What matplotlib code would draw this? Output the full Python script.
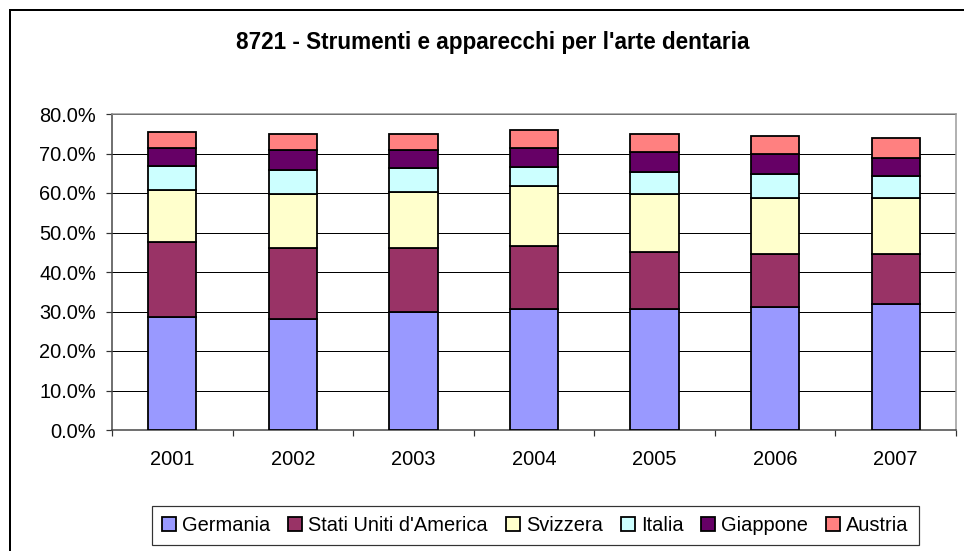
import matplotlib
matplotlib.use("Agg")
import matplotlib.pyplot as plt
import numpy as np
from matplotlib.lines import Line2D
from matplotlib.ticker import FuncFormatter, FixedLocator

years = ["2001", "2002", "2003", "2004", "2005", "2006", "2007"]
germania = [28.7, 28.2, 29.8, 30.7, 30.7, 31.2, 31.8]
stati_uniti = [18.8, 17.8, 16.2, 15.8, 14.3, 13.3, 12.7]
svizzera = [13.2, 13.7, 14.2, 15.2, 14.7, 14.2, 14.2]
italia = [6.1, 6.1, 6.1, 5.0, 5.6, 6.1, 5.6]
giappone = [4.6, 5.1, 4.6, 4.7, 5.1, 5.0, 4.5]
austria = [4.1, 4.1, 4.1, 4.6, 4.6, 4.7, 5.1]

series_names = ["Germania", "Stati Uniti d'America", "Svizzera", "Italia", "Giappone", "Austria"]
series_vals = [germania, stati_uniti, svizzera, italia, giappone, austria]
colors = ["#9999FF", "#993366", "#FFFFCC", "#CCFFFF", "#660066", "#FF8080"]

plt.rcParams['font.family'] = ['Liberation Sans', 'DejaVu Sans']

W, H = 964, 551
DPI = 72
fig = plt.figure(figsize=(W / DPI, H / DPI), dpi=DPI)

# outer chart-area border (top and left visible, right/bottom cropped)
fig.add_artist(Line2D([10 / W, 1.0], [1 - 10 / H, 1 - 10 / H], transform=fig.transFigure,
                      color="black", lw=2))
fig.add_artist(Line2D([10 / W, 10 / W], [0.0, 1 - 10 / H], transform=fig.transFigure,
                      color="black", lw=2))

left, right, top, bottom = 112, 956, 114, 430
ax = fig.add_axes([left / W, 1 - bottom / H, (right - left) / W, (bottom - top) / H])

x = np.arange(len(years))
base = np.zeros(len(years))
handles = []
for name, vals, c in zip(series_names, series_vals, colors):
    v = np.array(vals)
    b = ax.bar(x, v, bottom=base, width=0.4, color=c, edgecolor="black", linewidth=1.8,
               label=name, zorder=3)
    handles.append(b)
    base = base + v

ax.set_xlim(-0.5, len(years) - 0.5)
ax.set_ylim(0, 80)
ax.set_yticks(np.arange(0, 81, 10))
ax.yaxis.set_major_formatter(FuncFormatter(lambda v, p: f"{v:.1f}%"))
ax.grid(axis="y", color="black", lw=1, zorder=0)
ax.set_axisbelow(True)

ax.set_xticks(x)
ax.set_xticklabels(years)
ax.xaxis.set_minor_locator(FixedLocator(np.arange(-0.5, len(years), 1.0)))
ax.tick_params(axis="x", which="major", length=0, pad=20, labelsize=20)
ax.tick_params(axis="x", which="minor", length=6, width=1.2, color="#333333")
ax.tick_params(axis="y", length=6, width=1.2, color="#333333", pad=10, labelsize=20)

for s in ["top", "right"]:
    ax.spines[s].set_color("#999999")
    ax.spines[s].set_linewidth(1.5)
ax.spines["left"].set_color("#444444")
ax.spines["left"].set_linewidth(1.5)
ax.spines["bottom"].set_color("#444444")
ax.spines["bottom"].set_linewidth(1.5)

fig.text(493 / W, 1 - 42 / H, "8721 - Strumenti e apparecchi per l'arte dentaria",
         ha="center", va="center", fontsize=22.5, fontweight="bold")

leg = fig.legend(handles=handles, labels=series_names, loc="upper left",
                 bbox_to_anchor=(152 / W, 1 - 506 / H), ncol=6, fontsize=20,
                 frameon=True, fancybox=False, edgecolor="black",
                 handlelength=0.7, handleheight=0.7, handletextpad=0.3,
                 columnspacing=0.9, borderpad=0.5, borderaxespad=0)
leg.get_frame().set_linewidth(1.2)

fig.savefig("out.png", dpi=DPI)
